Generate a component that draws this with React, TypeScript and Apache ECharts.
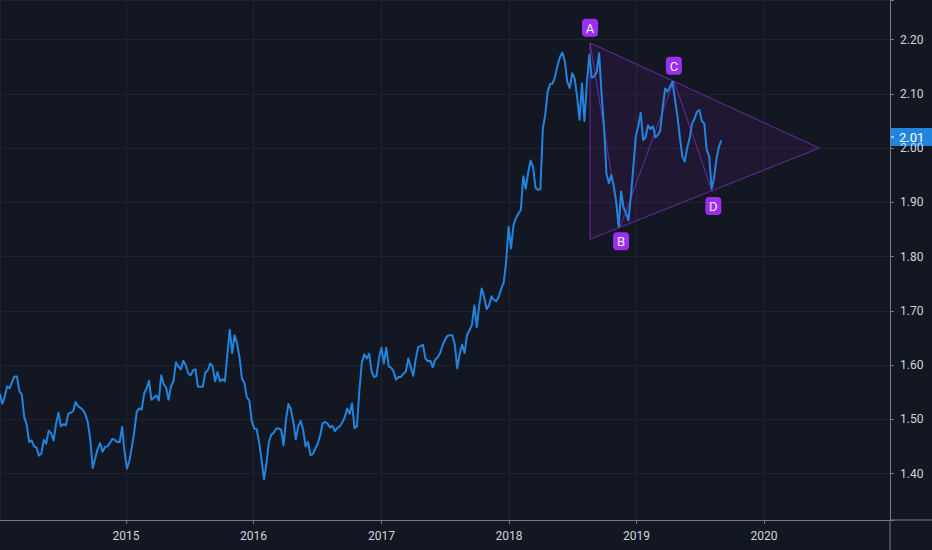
import React, { useEffect, useRef } from 'react';
import * as echarts from 'echarts';

const DAY = 86400000;
// first weekly close shown on the chart
const firstWeek = Date.UTC(2014, 0, 5);

// weekly closes, by calendar year
const values2014 = [
  1.547, 1.529, 1.541, 1.561, 1.557, 1.569, 1.579, 1.579, 1.552, 1.546,
  1.504, 1.490, 1.458, 1.461, 1.450, 1.448, 1.433, 1.437, 1.462, 1.455,
  1.479, 1.474, 1.461, 1.492, 1.512, 1.487, 1.491, 1.489, 1.510, 1.512,
  1.515, 1.532, 1.524, 1.521, 1.517, 1.509, 1.494, 1.462, 1.410, 1.428,
  1.445, 1.456, 1.440, 1.449, 1.450, 1.456, 1.464, 1.462, 1.458, 1.458,
  1.486, 1.440,
];
const values2015 = [
  1.409, 1.424, 1.449, 1.478, 1.514, 1.520, 1.518, 1.547,
  1.557, 1.571, 1.536, 1.540, 1.544, 1.535,
  1.581, 1.565, 1.558, 1.536, 1.561, 1.570, 1.605, 1.597, 1.592, 1.608,
  1.600, 1.585, 1.581, 1.590, 1.592, 1.560, 1.560, 1.560, 1.586, 1.590,
  1.603, 1.598, 1.570, 1.587, 1.570, 1.574, 1.570, 1.618, 1.665, 1.622,
  1.655, 1.640, 1.614, 1.575, 1.567, 1.540, 1.535, 1.497,
];
const values2016 = [
  1.483, 1.482,
  1.458, 1.425, 1.389, 1.418, 1.458, 1.472, 1.475, 1.483, 1.483, 1.481,
  1.452, 1.500, 1.528, 1.518, 1.495, 1.463, 1.487, 1.497, 1.481, 1.450,
  1.458,
  1.434, 1.436, 1.446, 1.455, 1.471, 1.493, 1.495, 1.492, 1.485, 1.488,
  1.478, 1.484, 1.487, 1.494, 1.504, 1.520, 1.510, 1.529, 1.484, 1.487,
  1.553, 1.604, 1.620, 1.612, 1.621, 1.588, 1.578, 1.580, 1.612,
];
const values2017 = [
  1.632, 1.603, 1.632, 1.597, 1.595, 1.588, 1.573, 1.578, 1.578, 1.584, 1.588,
  1.612, 1.597, 1.580, 1.610, 1.633, 1.635, 1.637, 1.612, 1.607, 1.608,
  1.596, 1.610, 1.614, 1.622, 1.636, 1.646, 1.654, 1.655, 1.655, 1.638,
  1.594, 1.620, 1.638, 1.622, 1.655, 1.664, 1.674,
  1.710, 1.670, 1.710, 1.741, 1.726, 1.703, 1.710, 1.727, 1.720, 1.718,
  1.726, 1.741, 1.752, 1.790, 1.855,
];
const values2018 = [
  1.815, 1.858, 1.871, 1.879, 1.886,
  1.948, 1.925, 1.955, 1.977, 1.965, 1.927, 1.923, 1.924, 2.036, 2.062,
  2.105, 2.118, 2.119, 2.132, 2.152, 2.168, 2.176, 2.160, 2.122, 2.111,
  2.138, 2.128, 2.095, 2.052,
  2.119, 2.050, 2.120, 2.172, 2.130, 2.132, 2.140, 2.175, 2.100, 2.040,
  1.953, 1.935, 1.950, 1.930, 1.900, 1.855, 1.920, 1.890, 1.880, 1.867,
  1.912, 1.965, 2.022,
];
const values2019 = [
  2.040, 2.065, 2.015, 2.020, 2.042, 2.035, 2.040, 2.020, 2.024, 2.032,
  2.075, 2.110, 2.104, 2.113, 2.122, 2.090, 2.060, 2.020, 1.985, 1.975,
  2.000, 2.018, 2.045, 2.054, 2.067, 2.070, 2.050, 2.045, 1.996, 1.985,
  1.925, 1.945, 1.980, 2.003, 2.014,
];
const priceValues = [
  ...values2014, ...values2015, ...values2016, ...values2017, ...values2018, ...values2019,
];
const weekDates = priceValues.map((_, i) => firstWeek + i * 7 * DAY);

// triangle pattern (A-B-C-D)
const patternLabels = ['A', 'B', 'C', 'D'];
const patternDates = [
  Date.UTC(2018, 7, 21), Date.UTC(2018, 10, 15), Date.UTC(2019, 3, 18), Date.UTC(2019, 7, 6),
];
const patternValues = [2.194, 1.854, 2.124, 1.919];
const triangleDates = [Date.UTC(2018, 7, 21), Date.UTC(2018, 7, 21), Date.UTC(2020, 5, 7)];
const triangleValues = [2.194, 1.832, 2.0];

// visible range
const xMin = Date.UTC(2014, 0, 5, 14);
const xMax = Date.UTC(2020, 11, 26, 10);
const yMin = 1.3143;
const yMax = 2.273;

const BG = '#131722';
const GRID = '#1f2330';
const AXIS = '#787b86';
const TEXT = '#d1d4dc';
const LINE = '#2185e0';
const PURPLE_LINE = '#6a2c9e';
const PURPLE_FILL = 'rgba(123,31,162,0.13)';
const LABEL_BG = '#9b2ff0';
const FONT = 'Roboto, "Noto Sans", sans-serif';

export default function App() {
  const ref = useRef<HTMLDivElement>(null);

  useEffect(() => {
    const chart = echarts.init(ref.current!, null, { renderer: 'svg' });
    const option: any = {
      animation: false,
      useUTC: true,
      backgroundColor: BG,
      grid: { left: 0, right: 42, top: 0, bottom: 30, containLabel: false },
      xAxis: {
        type: 'time',
        min: xMin,
        max: xMax,
        splitNumber: 6,
        minInterval: 365 * DAY,
        axisLine: { show: true, lineStyle: { color: AXIS, width: 1 } },
        axisTick: { show: true, length: 4, lineStyle: { color: AXIS } },
        axisLabel: {
          color: TEXT,
          fontSize: 12,
          fontFamily: FONT,
          margin: 10,
          hideOverlap: false,
          formatter: (v: number) => {
            const d = new Date(v);
            return d.getUTCMonth() === 0 && d.getUTCDate() === 1 ? String(d.getUTCFullYear()) : '';
          },
        },
        splitLine: { show: true, lineStyle: { color: GRID, width: 1 } },
      },
      yAxis: {
        type: 'value',
        position: 'right',
        min: yMin,
        max: yMax,
        splitNumber: 9,
        scale: true,
        axisLine: { show: true, lineStyle: { color: AXIS, width: 1 } },
        axisTick: { show: true, length: 4, lineStyle: { color: AXIS } },
        axisLabel: {
          color: TEXT,
          fontSize: 12,
          fontFamily: FONT,
          margin: 10,
          formatter: (v: number) =>
            Math.abs(v * 10 - Math.round(v * 10)) < 1e-6 ? v.toFixed(2) : '',
        },
        splitLine: { show: true, lineStyle: { color: GRID, width: 1 } },
      },
      series: [
        {
          type: 'custom',
          z: 2,
          silent: true,
          data: [[triangleDates[0], triangleValues[0]]],
          renderItem: (_params: any, api: any) => {
            const tri = triangleDates.map((d, i) => api.coord([d, triangleValues[i]]));
            const zig = patternDates.map((d, i) => api.coord([d, patternValues[i]]));
            return {
              type: 'group',
              children: [
                {
                  type: 'polygon',
                  shape: { points: tri },
                  style: { fill: PURPLE_FILL, stroke: PURPLE_LINE, lineWidth: 1 },
                },
                {
                  type: 'polyline',
                  shape: { points: zig },
                  style: { fill: null, stroke: PURPLE_LINE, lineWidth: 1 },
                },
              ],
            };
          },
        },
        {
          type: 'line',
          z: 3,
          data: weekDates.map((d, i) => [d, priceValues[i]]),
          showSymbol: false,
          symbol: 'none',
          lineStyle: { color: LINE, width: 2, join: 'round' },
          silent: true,
        },
        {
          type: 'custom',
          z: 4,
          silent: true,
          data: patternLabels.map((_, i) => [patternDates[i], patternValues[i], i]),
          renderItem: (_params: any, api: any) => {
            const idx = api.value(2);
            const p = api.coord([api.value(0), api.value(1)]);
            const above = idx % 2 === 0;
            const cy = above ? p[1] - 15 : p[1] + 14;
            const cx = p[0] + (above ? 0 : 1);
            return {
              type: 'group',
              children: [
                {
                  type: 'rect',
                  shape: { x: cx - 8, y: cy - 9, width: 16, height: 18, r: 4 },
                  style: { fill: LABEL_BG },
                },
                {
                  type: 'text',
                  style: {
                    text: patternLabels[idx],
                    x: cx,
                    y: cy + 0.5,
                    align: 'center',
                    verticalAlign: 'middle',
                    fill: '#f3e8ff',
                    font: `13px ${FONT}`,
                  },
                },
              ],
            };
          },
        },
      ],
    };
    chart.setOption(option);

    const lastIdx = priceValues.length - 1;
    const last = priceValues[lastIdx];
    const pt = chart.convertToPixel({ gridIndex: 0 }, [weekDates[lastIdx], last]) as number[];
    const axisX = chart.getWidth() - 42;
    const axisY = chart.getHeight() - 30;
    const tagY = pt[1] - 3.5;
    chart.setOption({
      graphic: [
        {
          type: 'line',
          shape: { x1: axisX, y1: axisY, x2: chart.getWidth(), y2: axisY },
          style: { stroke: AXIS, lineWidth: 1 },
        },
        {
          type: 'line',
          shape: { x1: axisX, y1: axisY, x2: axisX, y2: chart.getHeight() },
          style: { stroke: AXIS, lineWidth: 1 },
        },
        {
          type: 'rect',
          shape: { x: axisX, y: tagY - 9, width: 42, height: 18 },
          style: { fill: LINE },
        },
        {
          type: 'line',
          shape: { x1: axisX, y1: tagY, x2: axisX + 4, y2: tagY },
          style: { stroke: '#ffffff', lineWidth: 1 },
        },
        {
          type: 'text',
          style: {
            text: last.toFixed(2),
            x: axisX + 9,
            y: tagY + 0.5,
            verticalAlign: 'middle',
            fill: '#ffffff',
            font: `13px ${FONT}`,
          },
        },
      ],
    });

    return () => chart.dispose();
  }, []);

  return (
    <div
      ref={ref}
      style={{ position: 'fixed', left: 0, top: 0, width: 932, height: 550 }}
    />
  );
}
